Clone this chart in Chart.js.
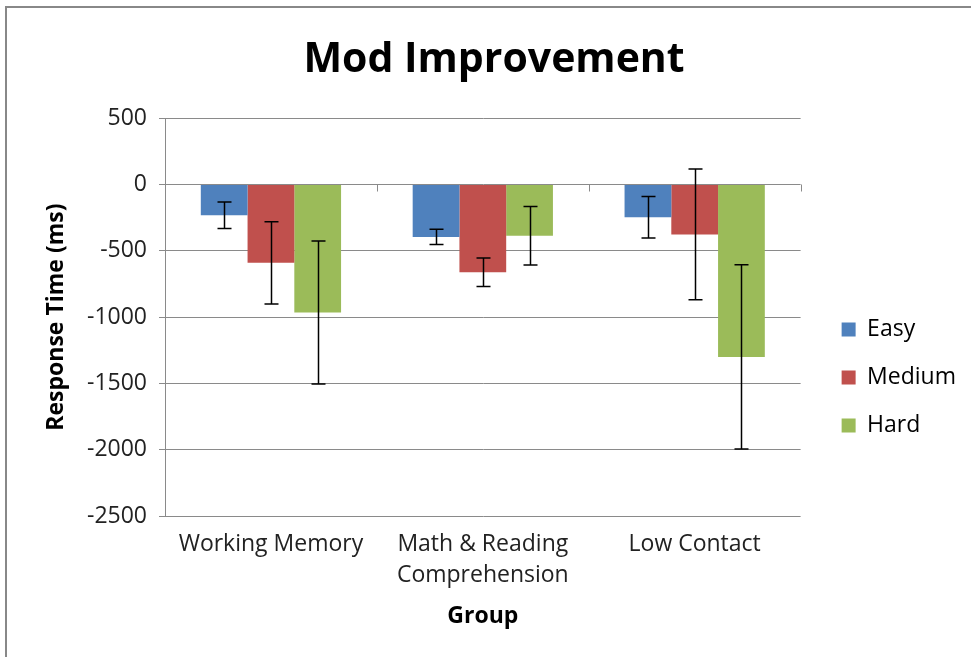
<!DOCTYPE html>
<html>
<head>
<meta charset="utf-8">
<title>Mod Improvement</title>
<script src="https://cdn.jsdelivr.net/npm/chart.js@4.4.0/dist/chart.umd.min.js"></script>
<style>
  body { margin: 0; background: #fff; }
  #chart { display: block; }
</style>
</head>
<body>
<canvas id="chart" width="971" height="657"></canvas>
<script>
// data
const groups = ['Working Memory', ['Math & Reading', 'Comprehension'], 'Low Contact'];
const seriesNames = ['Easy', 'Medium', 'Hard'];
const easy = [-232, -395, -247];
const medium = [-591, -662, -377];
const hard = [-966, -387, -1300];
const easyErr = [100, 58, 156];
const mediumErr = [310, 107, 493];
const hardErr = [539, 221, 695];
const yTicks = [500, 0, -500, -1000, -1500, -2000, -2500];

const colors = ['#4F81BD', '#C0504D', '#9BBB59'];
const gridColor = '#8a8a8a';
const font = '"Open Sans", "DejaVu Sans", sans-serif';

// white background and the frame lines on top/left
const framePlugin = {
  id: 'frame',
  beforeDraw(chart) {
    const ctx = chart.ctx;
    ctx.save();
    ctx.fillStyle = '#fff';
    ctx.fillRect(0, 0, chart.width, chart.height);
    ctx.strokeStyle = '#888';
    ctx.lineWidth = 2;
    ctx.beginPath();
    ctx.moveTo(6, chart.height);
    ctx.lineTo(6, 7);
    ctx.lineTo(chart.width, 7);
    ctx.stroke();
    ctx.restore();
  }
};

// move the legend away from the plot and down a bit (like excel does)
const legendNudge = {
  id: 'legendNudge',
  afterLayout(chart) {
    const lg = chart.legend;
    const pad = chart.options.plugins.legend.labels.padding;
    const shift = (chart.chartArea.right + 41 - pad) - lg.left;
    lg.left += shift;
    lg.right += shift;
    lg.top += 59;
    lg.bottom += 59;
  }
};

// category tick marks hanging under the zero line
const zeroTicks = {
  id: 'zeroTicks',
  afterDraw(chart) {
    const x = chart.scales.x;
    const y0 = chart.scales.y.getPixelForValue(0);
    const ctx = chart.ctx;
    const step = (x.right - x.left) / groups.length;
    ctx.save();
    ctx.strokeStyle = gridColor;
    ctx.lineWidth = 1;
    for (let i = 0; i <= groups.length; i++) {
      const px = Math.round(x.left + i * step) + 0.5;
      ctx.beginPath();
      ctx.moveTo(px, y0);
      ctx.lineTo(px, y0 + 7);
      ctx.stroke();
    }
    ctx.restore();
  }
};

// error bars
const errorBars = {
  id: 'errorBars',
  afterDatasetsDraw(chart) {
    const ctx = chart.ctx;
    const yScale = chart.scales.y;
    ctx.save();
    ctx.strokeStyle = '#000';
    ctx.lineWidth = 1.5;
    chart.data.datasets.forEach((ds, i) => {
      const meta = chart.getDatasetMeta(i);
      meta.data.forEach((bar, j) => {
        const v = ds.data[j];
        const e = ds.errors[j];
        const top = yScale.getPixelForValue(v + e);
        const bot = yScale.getPixelForValue(v - e);
        const x = Math.round(bar.x) + 0.5;
        ctx.beginPath();
        ctx.moveTo(x, top);
        ctx.lineTo(x, bot);
        ctx.moveTo(x - 7, top);
        ctx.lineTo(x + 7, top);
        ctx.moveTo(x - 7, bot);
        ctx.lineTo(x + 7, bot);
        ctx.stroke();
      });
    });
    ctx.restore();
  }
};

const values = [easy, medium, hard];
const errs = [easyErr, mediumErr, hardErr];

new Chart(document.getElementById('chart'), {
  type: 'bar',
  data: {
    labels: groups,
    datasets: seriesNames.map((name, i) => ({
      label: name,
      data: values[i],
      errors: errs[i],
      backgroundColor: colors[i],
      borderWidth: 0,
      barPercentage: 1,
      categoryPercentage: 0.662
    }))
  },
  options: {
    responsive: false,
    animation: false,
    devicePixelRatio: 1,
    layout: {
      padding: { left: 38, right: 21, top: 0, bottom: 20 }
    },
    plugins: {
      title: {
        display: true,
        text: 'Mod Improvement',
        color: '#000',
        font: { family: font, size: 41, weight: 'bold', lineHeight: 1.2 },
        padding: { top: 36, bottom: 33 }
      },
      legend: {
        position: 'right',
        labels: {
          color: '#000',
          font: { family: font, size: 23 },
          boxWidth: 14,
          boxHeight: 14,
          padding: 25
        }
      },
      tooltip: { enabled: false }
    },
    scales: {
      x: {
        grid: { display: false, drawTicks: false },
        border: { display: false },
        ticks: {
          color: '#222',
          padding: 13,
          maxRotation: 0,
          font: { family: font, size: 23, lineHeight: 1.35 }
        },
        title: {
          display: true,
          text: 'Group',
          color: '#000',
          font: { family: font, size: 23, weight: 'bold', lineHeight: 1.2 },
          padding: { top: 0, bottom: 7 }
        },
        afterFit(scale) { scale.height = 121; }
      },
      y: {
        min: -2500,
        max: 500,
        afterBuildTicks(scale) { scale.ticks = yTicks.map(v => ({ value: v })); },
        grid: { color: gridColor, tickLength: 6, drawTicks: true },
        border: { color: gridColor },
        ticks: {
          color: '#222',
          padding: 12,
          font: { family: font, size: 23 },
          callback: (v) => String(v)
        },
        title: {
          display: true,
          text: 'Response Time (ms)',
          color: '#000',
          font: { family: font, size: 23, weight: 'bold', lineHeight: 1.2 },
          padding: { top: 5, bottom: 0 }
        },
        afterFit(scale) { scale.width = 127; }
      }
    }
  },
  plugins: [framePlugin, legendNudge, zeroTicks, errorBars]
});
</script>
</body>
</html>
